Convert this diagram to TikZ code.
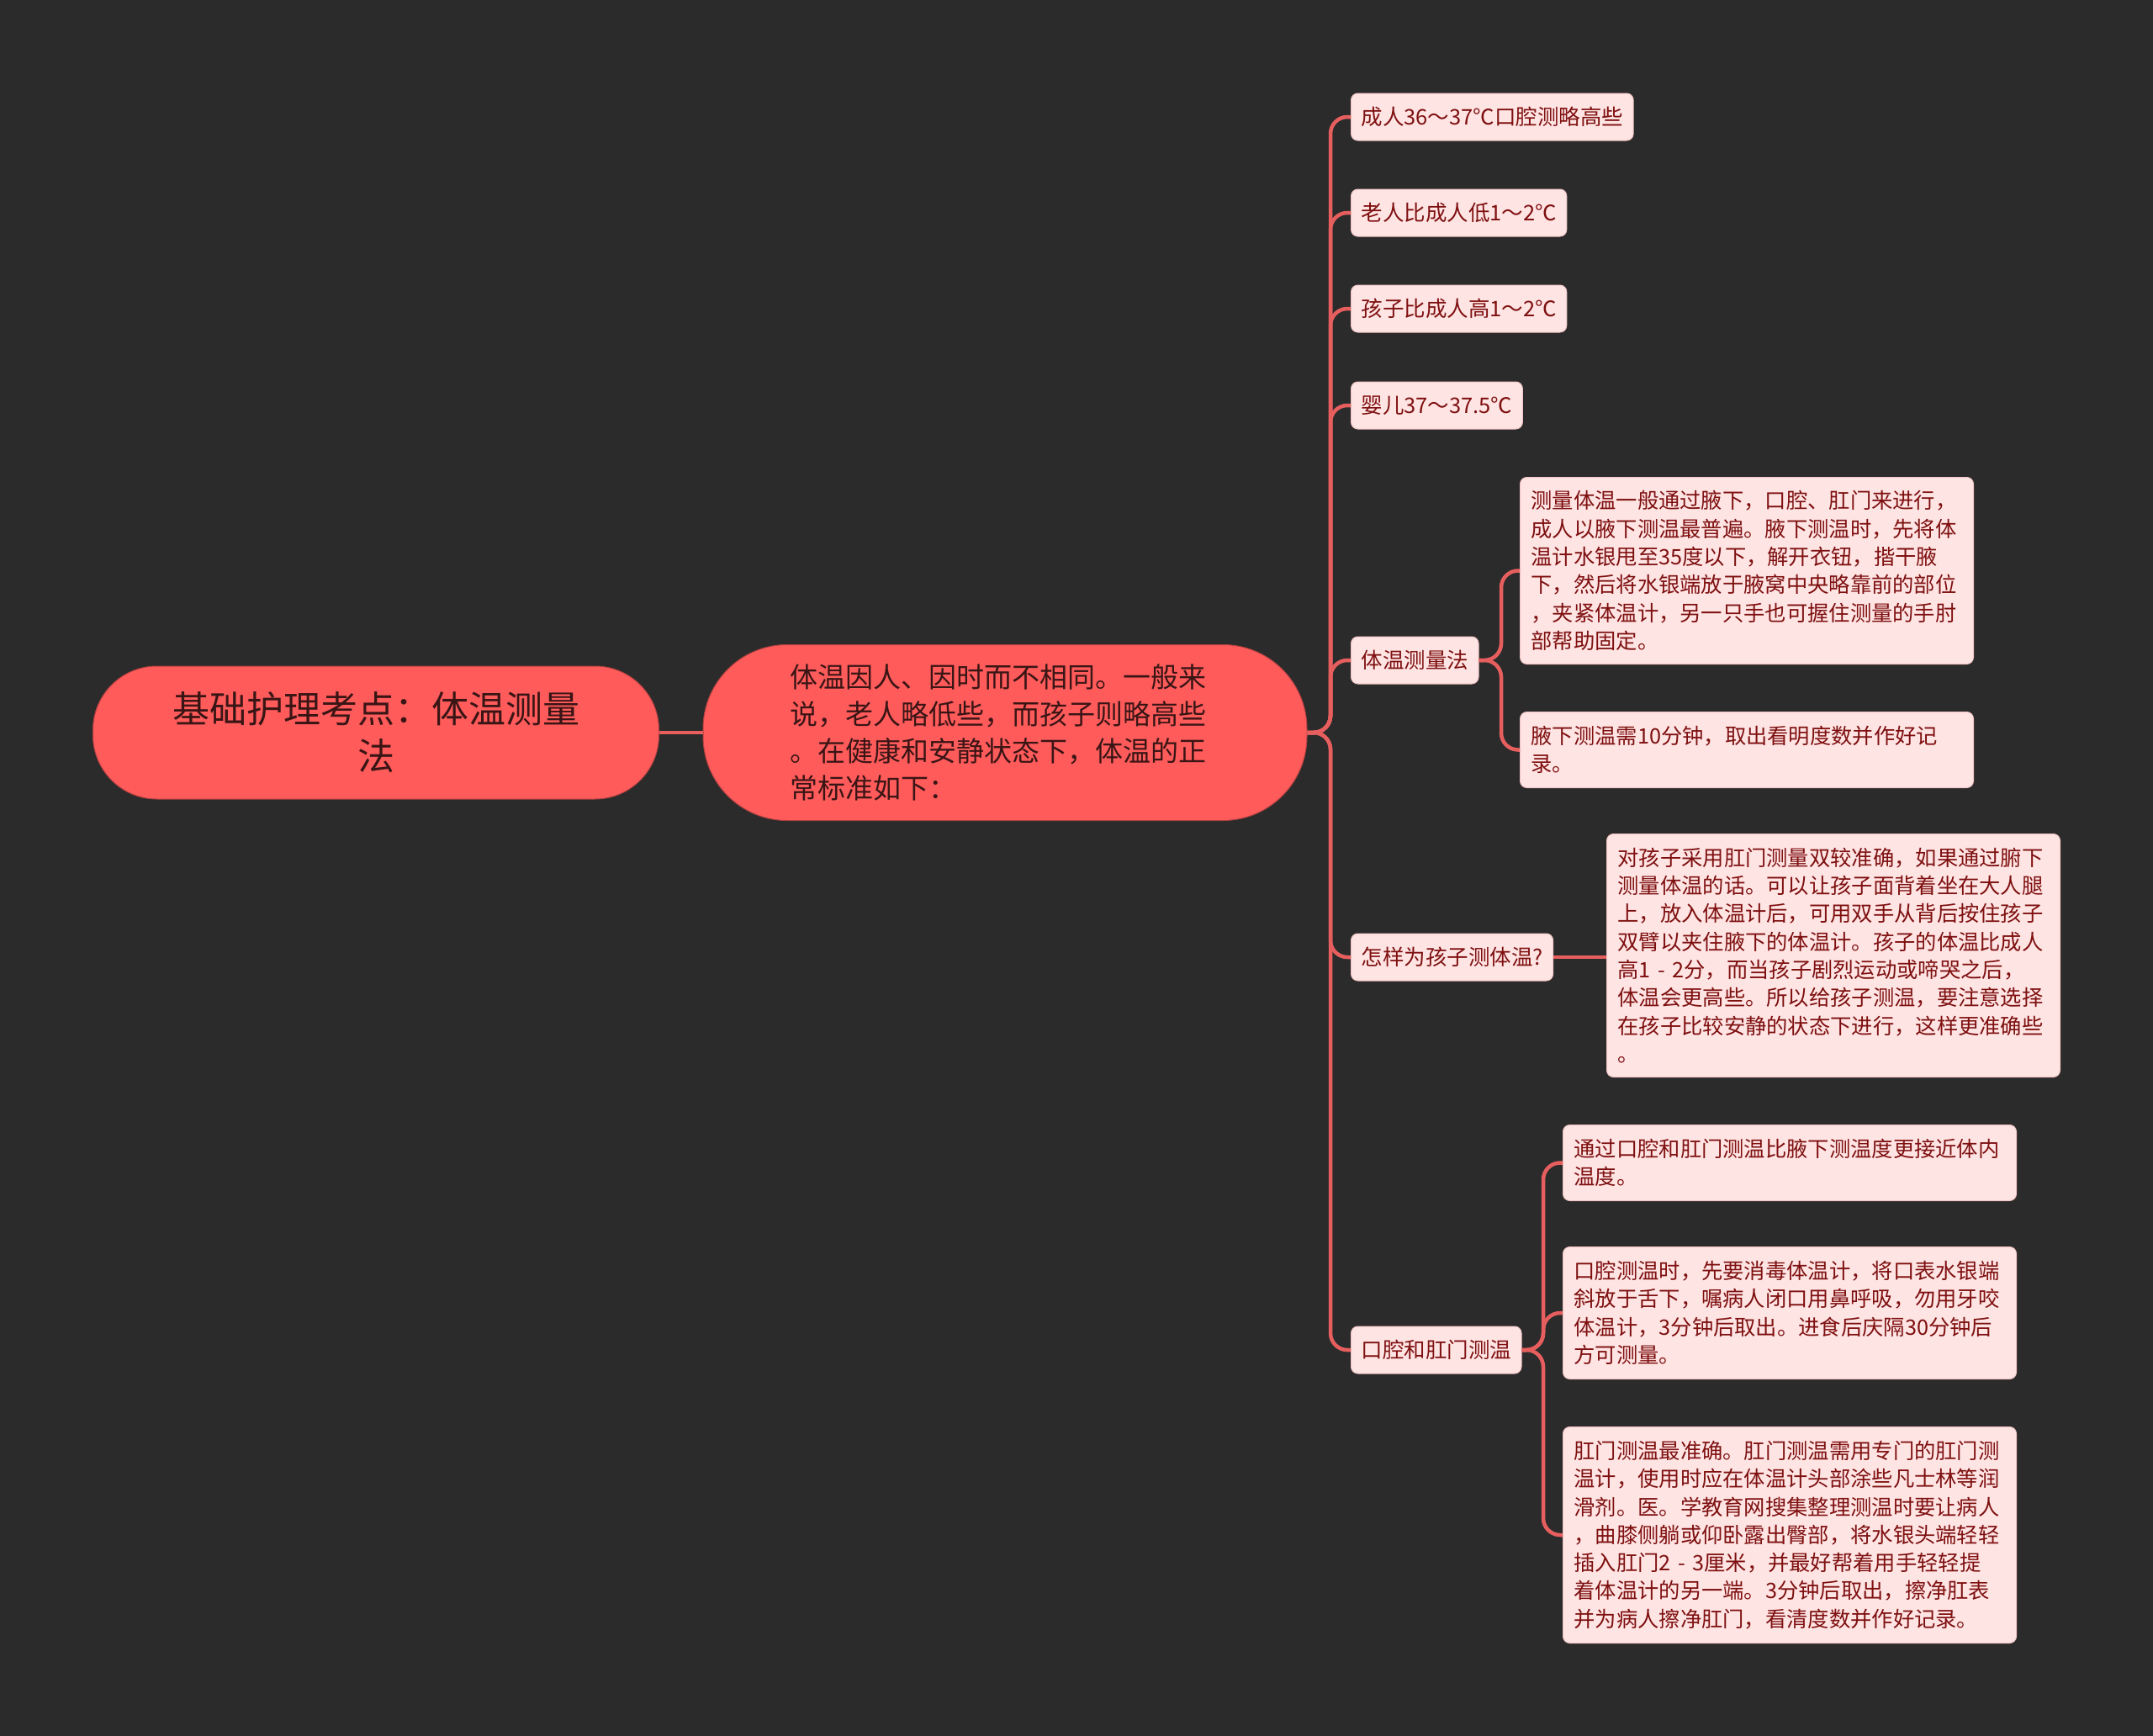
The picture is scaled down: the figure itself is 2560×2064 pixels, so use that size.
\documentclass[tikz,border=0pt]{standalone}
\usepackage{fontspec}
\setmainfont{Noto Sans CJK SC}
\definecolor{bg}{HTML}{2B2B2B}
\definecolor{rootfill}{HTML}{FF5B5B}
\definecolor{roottext}{HTML}{3A1515}
\definecolor{leaffill}{HTML}{FFE4E4}
\definecolor{leafdraw}{HTML}{F2C4C4}
\definecolor{leaftext}{HTML}{7E1010}
\definecolor{conn}{HTML}{E65E5E}
\tikzset{
  rootbox/.style={draw=rootfill!70!black, line width=1pt, fill=rootfill, text=roottext, rounded corners=76pt, align=center, inner sep=0pt,
    minimum width=673pt, minimum height=158pt, font=\fontsize{44}{56}\selectfont},
  centbox/.style={draw=rootfill!70!black, line width=1pt, fill=rootfill, text=roottext, rounded corners=100pt, align=left, inner sep=0pt,
    minimum width=718pt, minimum height=209pt, font=\fontsize{33}{44}\selectfont},
  midbox/.style={draw=leafdraw, line width=1pt, fill=leaffill, text=leaftext, rounded corners=8pt, inner xsep=12pt, inner ysep=0pt,
    minimum height=56pt, anchor=west, font=\fontsize{25.5}{33}\selectfont},
  leafbox/.style={draw=leafdraw, line width=1pt, fill=leaffill, text=leaftext, rounded corners=8pt, inner xsep=13pt, inner ysep=0pt,
    align=left, anchor=north west, font=\fontsize{25.3}{33.3}\selectfont},
  link/.style={draw=conn, line width=4.5pt, rounded corners=20pt},
}
\begin{document}
\begin{tikzpicture}[x=1pt,y=1pt]
\fill[bg] (0,0) rectangle (2560,-2064);
\useasboundingbox (0,0) rectangle (2560,-2064);

\node[rootbox] (root) at (447,-871) {基础护理考点：体温测量\\法};
\node[centbox, text width=718pt] (cent) at (1195,-871) {\hspace*{103pt}\begin{minipage}{520pt}\raggedright 体温因人、因时而不相同。一般来\\说，老人略低些，而孩子则略高些\\。在健康和安静状态下，体温的正\\常标准如下：\end{minipage}};

\node[midbox] (m1) at (1606,-139) {成人36～37℃口腔测略高些};
\node[midbox] (m2) at (1606,-253) {老人比成人低1～2℃};
\node[midbox] (m3) at (1606,-367) {孩子比成人高1～2℃};
\node[midbox] (m4) at (1606,-482) {婴儿37～37.5℃};
\node[midbox] (m5) at (1606,-785) {体温测量法};
\node[midbox] (m6) at (1606,-1138) {怎样为孩子测体温?};
\node[midbox] (m7) at (1606,-1605) {口腔和肛门测温};

\node[leafbox, text width=513pt, minimum height=222pt] (a1) at (1807,-567) {测量体温一般通过腋下，口腔、肛门来进行，\\成人以腋下测温最普遍。腋下测温时，先将体\\温计水银甩至35度以下，解开衣钮，揩干腋\\下，然后将水银端放于腋窝中央略靠前的部位\\，夹紧体温计，另一只手也可握住测量的手肘\\部帮助固定。};
\node[leafbox, text width=513pt, minimum height=90pt] (a2) at (1807,-846) {腋下测温需10分钟，取出看明度数并作好记\\录。};

\node[leafbox, text width=513pt, minimum height=289pt] (b1) at (1910,-991) {对孩子采用肛门测量双较准确，如果通过腑下\\测量体温的话。可以让孩子面背着坐在大人腿\\上，放入体温计后，可用双手从背后按住孩子\\双臂以夹住腋下的体温计。孩子的体温比成人\\高1 - 2分，而当孩子剧烈运动或啼哭之后，\\体温会更高些。所以给孩子测温，要注意选择\\在孩子比较安静的状态下进行，这样更准确些\\。};

\node[leafbox, text width=513pt, minimum height=90pt] (c1) at (1858,-1337) {通过口腔和肛门测温比腋下测温度更接近体内\\温度。};
\node[leafbox, text width=513pt, minimum height=157pt] (c2) at (1858,-1482) {口腔测温时，先要消毒体温计，将口表水银端\\斜放于舌下，嘱病人闭口用鼻呼吸，勿用牙咬\\体温计，3分钟后取出。进食后庆隔30分钟后\\方可测量。};
\node[leafbox, text width=513pt, minimum height=257pt] (c3) at (1858,-1696) {肛门测温最准确。肛门测温需用专门的肛门测\\温计，使用时应在体温计头部涂些凡士林等润\\滑剂。医。学教育网搜集整理测温时要让病人\\，曲膝侧躺或仰卧露出臀部，将水银头端轻轻\\插入肛门2 - 3厘米，并最好帮着用手轻轻提\\着体温计的另一端。3分钟后取出，擦净肛表\\并为病人擦净肛门，看清度数并作好记录。};

% connectors
\coordinate (trunk) at (1582,-871);
\draw[link] (root.east) -- (cent.west);
\foreach \m in {m1,m2,m3,m4,m5,m6,m7}{
  \draw[link] (cent.east) -- (trunk) -- (trunk |- \m.west) -- (\m.west);
}
\coordinate (j5) at (1785,-785);
\draw[link] (m5.east) -- (j5) -- (j5 |- a1.west) -- (a1.west);
\draw[link] (m5.east) -- (j5) -- (j5 |- a2.west) -- (a2.west);
\draw[link] (m6.east) -- (m6.east -| b1.west);
\coordinate (j7) at (1835,-1605);
\draw[link] (m7.east) -- (j7) -- (j7 |- c1.west) -- (c1.west);
\draw[link] (m7.east) -- (j7) -- (j7 |- c2.west) -- (c2.west);
\draw[link] (m7.east) -- (j7) -- (j7 |- c3.west) -- (c3.west);
\end{tikzpicture}
\end{document}
